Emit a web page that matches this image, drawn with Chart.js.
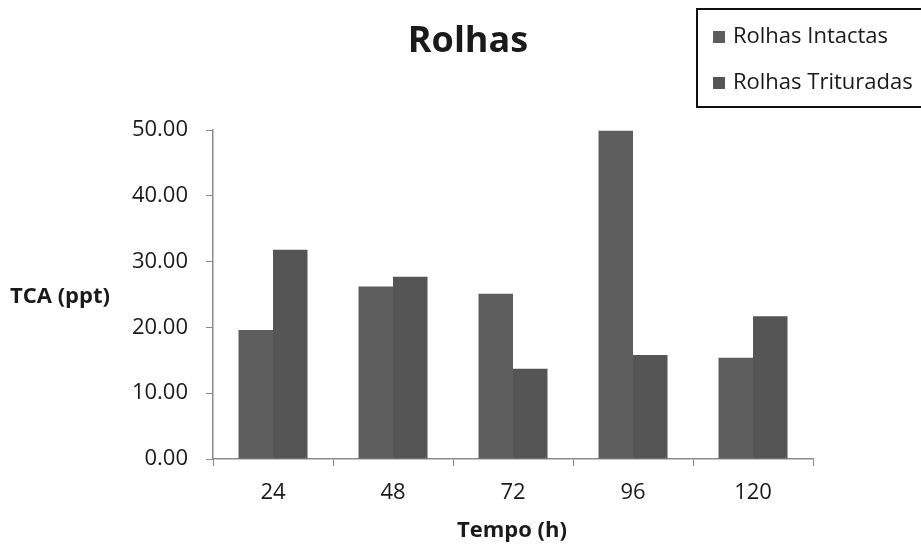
<!DOCTYPE html>
<html>
<head>
<meta charset="utf-8">
<script src="https://cdn.jsdelivr.net/npm/chart.js@4"></script>
<style>
  html, body { margin: 0; padding: 0; background: #fff; }
  #wrap { width: 921px; height: 546px; }
</style>
</head>
<body>
<div id="wrap"><canvas id="rolhas-chart" width="921" height="546"></canvas></div>
<script>
// --- data ---
const tempos = ['24', '48', '72', '96', '120'];
const intactas = [19.6, 26.2, 25.1, 49.9, 15.4];
const trituradas = [31.8, 27.7, 13.7, 15.8, 21.7];
const seriesNames = ['Rolhas Intactas', 'Rolhas Trituradas'];
const seriesColors = ['#5d5d5d', '#555555'];
const yMin = 0, yMax = 50, yStep = 10;

const FONT = "'Open Sans', 'DejaVu Sans', sans-serif";

// title, horizontal axis labels and the boxed legend
const decorations = {
  id: 'decorations',
  afterDraw(chart) {
    const ctx = chart.ctx;
    const area = chart.chartArea;
    ctx.save();
    ctx.fillStyle = '#1a1a1a';
    ctx.textBaseline = 'middle';

    ctx.font = 'bold 36px ' + FONT;
    ctx.textAlign = 'center';
    ctx.fillText('Rolhas', 468, 42);

    ctx.font = 'bold 22px ' + FONT;
    ctx.fillText('Tempo (h)', 512, 531);
    ctx.textAlign = 'left';
    ctx.fillText('TCA (ppt)', 10, 297);

    // legend
    ctx.lineWidth = 2;
    ctx.strokeStyle = '#111';
    ctx.strokeRect(697, 9, 230, 98);
    ctx.font = '22px ' + FONT;
    chart.data.datasets.forEach((ds, i) => {
      const cy = 37 + i * 46;
      ctx.fillStyle = ds.backgroundColor;
      ctx.fillRect(713, cy - 6, 12, 12);
      ctx.fillStyle = '#1a1a1a';
      ctx.fillText(ds.label, 733, cy);
    });
    ctx.restore();
  }
};

new Chart(document.getElementById('rolhas-chart'), {
  type: 'bar',
  data: {
    labels: tempos,
    datasets: [
      { label: seriesNames[0], data: intactas, backgroundColor: seriesColors[0] },
      { label: seriesNames[1], data: trituradas, backgroundColor: seriesColors[1] }
    ]
  },
  options: {
    responsive: false,
    animation: false,
    datasets: { bar: { categoryPercentage: 0.575, barPercentage: 1.0 } },
    layout: { padding: { left: 0, right: 108, top: 130, bottom: 0 } },
    plugins: { legend: { display: false }, title: { display: false }, tooltip: { enabled: false } },
    scales: {
      x: {
        grid: { offset: true, drawOnChartArea: false, tickLength: 7, color: '#8a8a8a' },
        border: { color: '#8a8a8a', width: 1.5 },
        ticks: { color: '#1a1a1a', padding: 14, font: { family: FONT, size: 22 } },
        afterFit(scale) { scale.height = 87; }
      },
      y: {
        min: yMin, max: yMax,
        grid: { drawOnChartArea: false, tickLength: 7, color: '#8a8a8a' },
        border: { color: '#8a8a8a', width: 1.5 },
        ticks: {
          stepSize: yStep, color: '#1a1a1a', padding: 18,
          font: { family: FONT, size: 22 },
          callback: v => v.toFixed(2)
        },
        afterFit(scale) { scale.width = 213; }
      }
    }
  },
  plugins: [decorations]
});
</script>
</body>
</html>
